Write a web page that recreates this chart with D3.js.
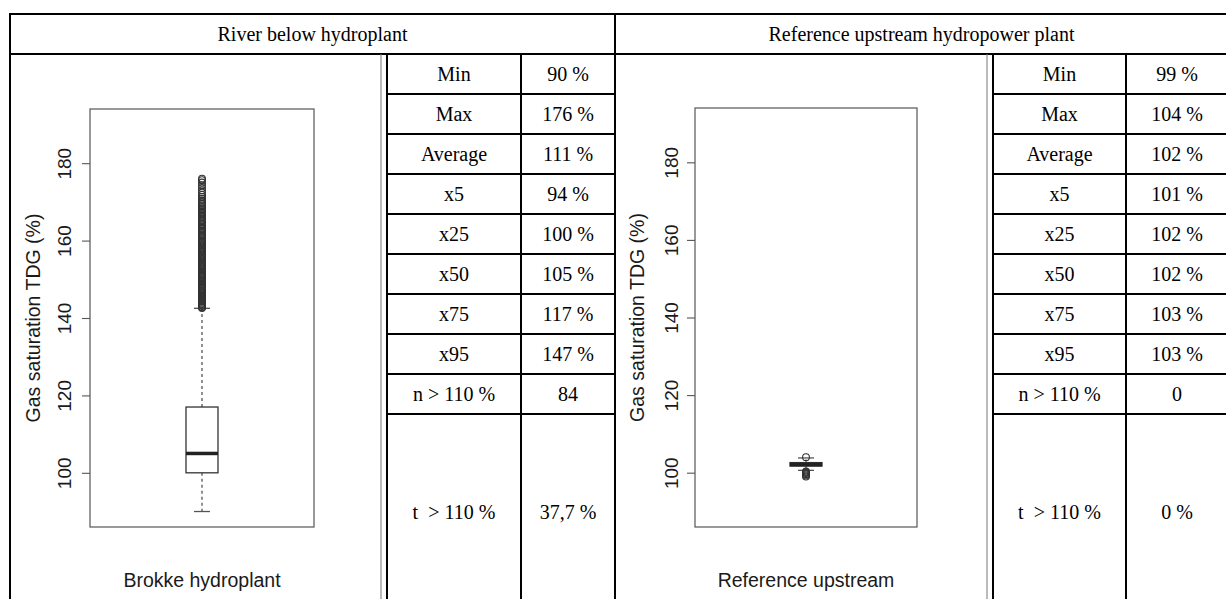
<!DOCTYPE html>
<html>
<head>
<meta charset="utf-8">
<script src="https://cdn.jsdelivr.net/npm/d3@7"></script>
<style>
  html, body { margin: 0; padding: 0; background: #fff; }
  svg { display: block; }
  .plot-text { font-family: "Liberation Sans", Arial, sans-serif; fill: #1a1a1a; }
  .table-text { font-family: "Liberation Serif", "Times New Roman", serif; fill: #000; white-space: pre; }
</style>
</head>
<body>
<svg id="chart" width="1226" height="599"></svg>
<script>
// ---- data ----
const panelTitles = ["River below hydroplant", "Reference upstream hydropower plant"];
const siteNames = ["Brokke hydroplant", "Reference upstream"];
const yTicks = [100, 120, 140, 160, 180];
const yLimits = [86, 194];

// boxplot statistics per site (TDG %)
const whiskerLow  = [90, 100.6];
const quartile1   = [100, 101.7];
const medians     = [105, 102.1];
const quartile3   = [117, 102.6];
const whiskerHigh = [142.5, 103.8];

// outlying measurements beyond the whiskers
const brokkeOutliers = [142.6,142.8,143.1,143.4,143.6,143.9,144.2,144.5,144.7,145.0,145.3,145.6,145.8,146.1,146.4,146.7,147.0,147.2,147.5,147.8,148.1,148.3,148.6,148.9,149.2,149.5,149.7,150.0,150.3,150.6,150.9,151.1,151.4,151.7,152.0,152.3,152.6,152.8,153.1,153.4,153.7,154.0,154.3,154.6,154.9,155.2,155.5,155.8,156.1,156.4,156.7,157.0,157.3,157.6,157.9,158.2,158.5,158.8,159.1,159.4,159.7,160.0,160.3,160.7,161.0,161.3,161.6,162.0,162.3,162.6,163.0,163.3,163.6,164.0,164.3,164.7,165.0,165.4,165.7,166.1,166.4,166.8,167.2,167.5,167.9,168.3,168.7,169.1,169.5,169.9,170.3,170.8,171.3,171.8,172.4,173.0,173.6,174.3,175.0,175.6,176.0];
const referenceOutliers = [104.0, 100.3, 100.1, 99.9, 99.6, 99.3, 99.0];

// summary table
const rowLabels = ["Min", "Max", "Average", "x5", "x25", "x50", "x75", "x95", "n > 110 %", "t  > 110 %"];
const brokkeValues = ["90 %", "176 %", "111 %", "94 %", "100 %", "105 %", "117 %", "147 %", "84", "37,7 %"];
const referenceValues = ["99 %", "104 %", "102 %", "101 %", "102 %", "102 %", "103 %", "103 %", "0", "0 %"];

// ---- layout ----
const svg = d3.select("#chart");
svg.append("rect").attr("width", 1226).attr("height", 599).attr("fill", "#fff");

const frame = { left: 10, right: 1228, top: 14, headBottom: 54, bottom: 610, divider: 615 };
const panels = [
  { x0: 10,  x1: 615,  plot: { l: 90,  r: 314, t: 109, b: 527 }, tabThin: 381, tabL: 387, tabMid: 521, tabR: 615,
    tickLabelX: 64.5, titleX: 33.5, outliers: brokkeOutliers, values: brokkeValues },
  { x0: 615, x1: 1228, plot: { l: 695, r: 917, t: 108, b: 527 }, tabThin: 987, tabL: 993, tabMid: 1126, tabR: 1228,
    tickLabelX: 671.5, titleX: 637.5, outliers: referenceOutliers, values: referenceValues }
];

// row positions: nine equal rows followed by a tall last row
const rowY = d3.scaleLinear().domain([0, 9]).range([frame.headBottom, 414]);
const rowTop = i => rowY(i);
const rowBottom = i => (i < 9 ? rowY(i + 1) : frame.bottom);

const lines = svg.append("g").attr("stroke", "#000").attr("stroke-width", 2).attr("fill", "none");
function hline(g, y, x1, x2, w, c) { g.append("line").attr("x1", x1).attr("x2", x2).attr("y1", y).attr("y2", y).attr("stroke-width", w || 2).attr("stroke", c || "#000"); }
function vline(g, x, y1, y2, w, c) { g.append("line").attr("x1", x).attr("x2", x).attr("y1", y1).attr("y2", y2).attr("stroke-width", w || 2).attr("stroke", c || "#000"); }

hline(lines, frame.top, frame.left - 1, frame.right);
hline(lines, frame.headBottom, frame.left - 1, frame.right);
vline(lines, frame.left, frame.top, frame.bottom);
vline(lines, frame.divider, frame.top, frame.bottom);
vline(lines, frame.right, frame.top, frame.bottom);

panels.forEach((p, k) => {
  // header
  svg.append("text").attr("class", "table-text")
    .attr("x", (p.x0 + p.x1) / 2).attr("y", (frame.top + frame.headBottom) / 2)
    .attr("dy", "0.35em").attr("text-anchor", "middle").attr("font-size", 20)
    .text(panelTitles[k]);

  // table grid
  const tg = svg.append("g").attr("fill", "none");
  vline(tg, p.tabThin, frame.headBottom, frame.bottom, 1, "#777");
  vline(tg, p.tabL, frame.headBottom, frame.bottom);
  vline(tg, p.tabMid, frame.headBottom, frame.bottom);
  d3.range(1, 10).forEach(i => hline(tg, rowTop(i), p.tabL - 1, p.tabR + 1));

  // table text
  rowLabels.forEach((lab, i) => {
    const cy = (rowTop(i) + rowBottom(i)) / 2;
    svg.append("text").attr("class", "table-text").attr("font-size", 20)
      .attr("x", (p.tabL + p.tabMid) / 2).attr("y", cy).attr("dy", "0.35em")
      .attr("text-anchor", "middle").text(lab);
    svg.append("text").attr("class", "table-text").attr("font-size", 20)
      .attr("x", (p.tabMid + p.tabR) / 2).attr("y", cy).attr("dy", "0.35em")
      .attr("text-anchor", "middle").text(p.values[i]);
  });

  // ---- boxplot ----
  const y = d3.scaleLinear().domain(yLimits).range([p.plot.b, p.plot.t]);
  const x = d3.scaleBand().domain([siteNames[k]]).range([p.plot.l, p.plot.r]);
  const cx = x(siteNames[k]) + x.bandwidth() / 2;
  const boxW = 32, capW = 16;
  const g = svg.append("g");

  // y axis
  const axis = d3.axisLeft(y).tickValues(yTicks).tickSize(8).tickFormat(d3.format("d"));
  const ag = g.append("g").attr("transform", `translate(${p.plot.l},0)`).call(axis);
  ag.select(".domain").remove();
  ag.attr("font-family", null).attr("font-size", null);
  ag.selectAll(".tick line").attr("stroke", "#555").attr("stroke-width", 1.1);
  ag.selectAll(".tick text")
    .attr("class", "plot-text")
    .attr("font-size", 19)
    .attr("x", null).attr("dy", "0.35em")
    .attr("text-anchor", "middle")
    .attr("transform", `translate(${p.tickLabelX - p.plot.l},0) rotate(-90)`);

  // axis title
  g.append("text").attr("class", "plot-text").attr("font-size", 19.5)
    .attr("text-anchor", "middle").attr("dy", "0.35em")
    .attr("transform", `translate(${p.titleX},${(p.plot.t + p.plot.b) / 2}) rotate(-90)`)
    .text("Gas saturation TDG (%)");

  // plot frame
  g.append("rect").attr("x", p.plot.l).attr("y", p.plot.t)
    .attr("width", p.plot.r - p.plot.l).attr("height", p.plot.b - p.plot.t)
    .attr("fill", "none").attr("stroke", "#555").attr("stroke-width", 1.2);

  // whiskers
  g.append("line").attr("x1", cx).attr("x2", cx).attr("y1", y(quartile3[k])).attr("y2", y(whiskerHigh[k]))
    .attr("stroke", "#555").attr("stroke-width", 1.3).attr("stroke-dasharray", "3,3");
  g.append("line").attr("x1", cx).attr("x2", cx).attr("y1", y(quartile1[k])).attr("y2", y(whiskerLow[k]))
    .attr("stroke", "#555").attr("stroke-width", 1.3).attr("stroke-dasharray", "3,3");
  [whiskerLow[k], whiskerHigh[k]].forEach(v => {
    g.append("line").attr("x1", cx - capW / 2).attr("x2", cx + capW / 2).attr("y1", y(v)).attr("y2", y(v))
      .attr("stroke", "#555").attr("stroke-width", 1.3);
  });

  // box and median
  g.append("rect").attr("x", cx - boxW / 2).attr("y", y(quartile3[k]))
    .attr("width", boxW).attr("height", y(quartile1[k]) - y(quartile3[k]))
    .attr("fill", "#fff").attr("stroke", "#333").attr("stroke-width", 1.3);
  g.append("line").attr("x1", cx - boxW / 2).attr("x2", cx + boxW / 2)
    .attr("y1", y(medians[k])).attr("y2", y(medians[k]))
    .attr("stroke", "#222").attr("stroke-width", 3.5);

  // outliers
  g.selectAll("circle.out").data(p.outliers).join("circle").attr("class", "out")
    .attr("cx", cx).attr("cy", d => y(d)).attr("r", 3.4)
    .attr("fill", "none").attr("stroke", "#333").attr("stroke-width", 1.1);

  // site label
  g.append("text").attr("class", "plot-text").attr("font-size", 19.5)
    .attr("x", cx).attr("y", 587).attr("text-anchor", "middle")
    .text(siteNames[k]);
});
</script>
</body>
</html>
